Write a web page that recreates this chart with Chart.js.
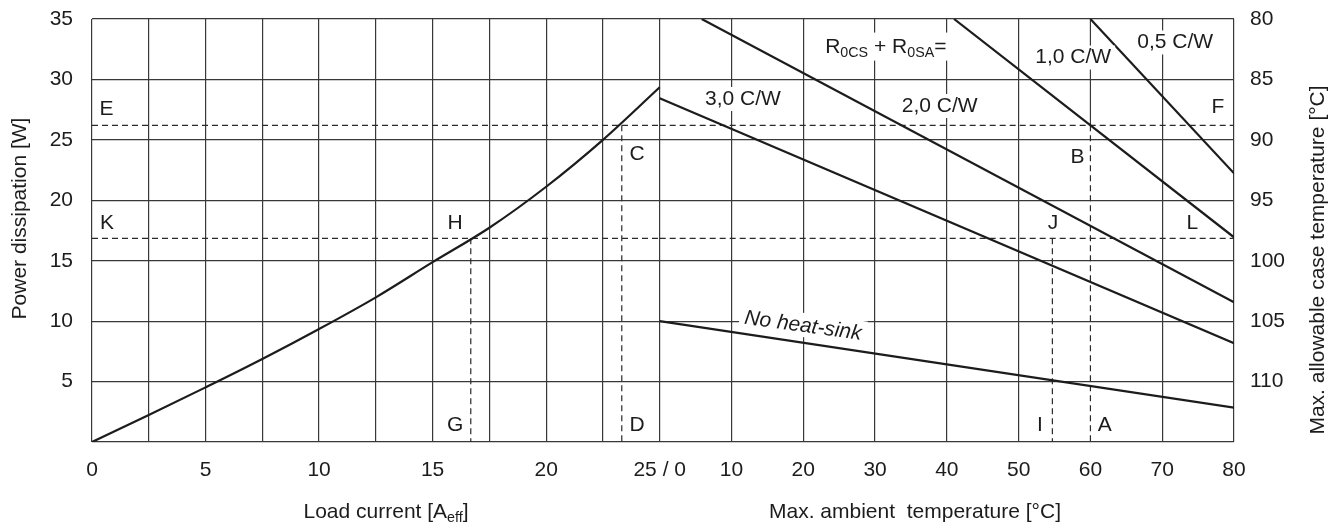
<!DOCTYPE html>
<html>
<head>
<meta charset="utf-8">
<script src="https://cdn.jsdelivr.net/npm/chart.js@4.4.0/dist/chart.umd.min.js"></script>
<style>
  html, body { margin: 0; padding: 0; background: #fff; }
</style>
</head>
<body>
<canvas id="chart" width="1341" height="527"></canvas>
<script>
// left half: load current [A] -> power dissipation [W]
const loadCurrent = [0, 2.5, 5, 7.5, 10, 12.5, 15, 17.5, 20, 22.5, 25];
const powerLoss   = [0, 2.23, 4.52, 6.87, 9.35, 11.97, 14.88, 17.73, 21.12, 25.0, 29.35];

// right half: one straight line per heat-sink, ambient temp [°C] -> power [W]
const sinkNames = ['No heat-sink', '3,0 C/W', '2,0 C/W', '1,0 C/W', '0,5 C/W'];
const sinkFromT = [0, 0, 5.85, 41.0, 60.0];
const sinkFromP = [10.0, 28.44, 35, 35, 35];
const sinkToT   = [80, 80, 80, 80, 80];
const sinkToP   = [2.84, 8.17, 11.56, 16.94, 22.23];

// dashed read-off lines (first = E/C/B example, second = K/H/J example)
const guidePower   = [26.2, 16.85];
const guideCurrent = [23.33, 16.68];
const guideAmbient = [60, 54.7];

// ticks
const currentTicks  = [0, 2.5, 5, 7.5, 10, 12.5, 15, 17.5, 20, 22.5, 25];
const currentLabels = ['0', '', '5', '', '10', '', '15', '', '20', '', '25 / 0'];
const ambientTicks  = [10, 20, 30, 40, 50, 60, 70, 80];
const powerTicks    = [0, 5, 10, 15, 20, 25, 30, 35];
const caseTicks     = [80, 85, 90, 95, 100, 105, 110, 115];

const FONT = '"Liberation Sans", Arial, Helvetica, sans-serif';
const INK = '#1c1c1c';
const GRID = '#383838';

// letters and labels: [text, x axis, x value, y value]
const notes = [
  ['E', 'xL', 0.64, 27.55], ['K', 'xL', 0.66, 18.12], ['H', 'xL', 15.99, 18.12],
  ['C', 'xL', 24.0, 23.83], ['G', 'xL', 15.99, 1.41], ['D', 'xL', 24.0, 1.41],
  ['I', 'xR', 52.97, 1.41], ['A', 'xR', 62.0, 1.41], ['J', 'xR', 54.8, 18.12],
  ['L', 'xR', 74.2, 18.12], ['B', 'xR', 58.2, 23.58], ['F', 'xR', 77.76, 27.72]
];
const boxedNotes = [
  ['3,0 C/W', 'xR', 11.6, 28.38], ['2,0 C/W', 'xR', 39.0, 27.8],
  ['1,0 C/W', 'xR', 57.6, 31.81], ['0,5 C/W', 'xR', 71.8, 33.06]
];

function seg(axis, xs, ys, extra) {
  return Object.assign({
    xAxisID: axis, yAxisID: 'y',
    data: xs.map((x, i) => ({x: x, y: ys[i]})),
    borderColor: INK, borderWidth: 2.2, pointRadius: 0, fill: false, tension: 0
  }, extra || {});
}

const dash = {borderDash: [6, 4], borderWidth: 1.2, borderColor: '#2a2a2a'};

const datasets = [
  seg('xL', loadCurrent, powerLoss, {cubicInterpolationMode: 'monotone'})
];
sinkNames.forEach((n, i) => {
  datasets.push(seg('xR', [sinkFromT[i], sinkToT[i]], [sinkFromP[i], sinkToP[i]], {label: n}));
});
guidePower.forEach(p => {
  datasets.push(seg('xL', [0, 25], [p, p], dash));
  datasets.push(seg('xR', [0, 80], [p, p], dash));
});
datasets.push(seg('xL', [guideCurrent[0], guideCurrent[0]], [guidePower[0], 0], dash));
datasets.push(seg('xL', [guideCurrent[1], guideCurrent[1]], [guidePower[1], 0], dash));
datasets.push(seg('xR', [guideAmbient[0], guideAmbient[0]], [guidePower[0], 0], dash));
datasets.push(seg('xR', [guideAmbient[1], guideAmbient[1]], [guidePower[1], 0], dash));
// grid line at 60 stays solid only above the E line
datasets.push(seg('xR', [guideAmbient[0], guideAmbient[0]], [guidePower[0], 35],
  {borderColor: GRID, borderWidth: 1.2}));

function richText(ctx, parts, x, y, size) {
  let w = 0;
  parts.forEach(p => {
    ctx.font = (p[1] ? size * 0.68 : size) + 'px ' + FONT;
    w += ctx.measureText(p[0]).width;
  });
  let cx = x - w / 2;
  ctx.textAlign = 'left';
  parts.forEach(p => {
    ctx.font = (p[1] ? size * 0.68 : size) + 'px ' + FONT;
    ctx.fillText(p[0], cx, p[1] ? y + 4 : y);
    cx += ctx.measureText(p[0]).width;
  });
  return w;
}

const notesPlugin = {
  id: 'notes',
  afterDatasetsDraw(chart) {
    const ctx = chart.ctx;
    const sc = chart.scales;
    ctx.save();
    ctx.fillStyle = INK;
    ctx.textBaseline = 'middle';
    ctx.textAlign = 'center';
    ctx.font = '21px ' + FONT;
    notes.forEach(n => {
      ctx.fillText(n[0], sc[n[1]].getPixelForValue(n[2]), sc.y.getPixelForValue(n[3]));
    });
    boxedNotes.forEach(n => {
      const px = sc[n[1]].getPixelForValue(n[2]);
      const py = sc.y.getPixelForValue(n[3]);
      const w = ctx.measureText(n[0]).width;
      ctx.fillStyle = '#fff';
      ctx.fillRect(px - w / 2 - 4, py - 12, w + 8, 24);
      ctx.fillStyle = INK;
      ctx.fillText(n[0], px, py);
    });

    // R0CS + R0SA=
    const rx = sc.xR.getPixelForValue(31.5);
    const ry = sc.y.getPixelForValue(32.8);
    ctx.fillStyle = '#fff';
    ctx.fillRect(rx - 66, ry - 13, 132, 28);
    ctx.fillStyle = INK;
    ctx.textBaseline = 'alphabetic';
    richText(ctx, [['R', 0], ['0CS', 1], [' + R', 0], ['0SA', 1], ['=', 0]], rx, ry + 7, 21);

    // No heat-sink, tilted like its line
    const x1 = sc.xR.getPixelForValue(sinkFromT[0]), y1 = sc.y.getPixelForValue(sinkFromP[0]);
    const x2 = sc.xR.getPixelForValue(sinkToT[0]), y2 = sc.y.getPixelForValue(sinkToP[0]);
    const ang = Math.atan2(y2 - y1, x2 - x1) * 0.92;
    ctx.translate(sc.xR.getPixelForValue(19.96), sc.y.getPixelForValue(9.6));
    ctx.rotate(ang);
    ctx.font = 'italic 21px ' + FONT;
    ctx.textAlign = 'center';
    ctx.textBaseline = 'middle';
    const nw = ctx.measureText(sinkNames[0]).width;
    ctx.fillStyle = '#fff';
    ctx.fillRect(-nw / 2 - 5, -13, nw + 10, 24);
    ctx.fillStyle = INK;
    ctx.fillText(sinkNames[0], 0, 0);
    ctx.restore();
  },
  afterDraw(chart) {
    const ctx = chart.ctx;
    ctx.save();
    ctx.fillStyle = INK;
    ctx.font = '21px ' + FONT;
    ctx.textBaseline = 'alphabetic';
    ctx.textAlign = 'center';

    ctx.save();
    ctx.translate(26, 218.5);
    ctx.rotate(-Math.PI / 2);
    ctx.fillText('Power dissipation [W]', 0, 0);
    ctx.restore();

    ctx.save();
    ctx.translate(1324, 260);
    ctx.rotate(-Math.PI / 2);
    ctx.fillText('Max. allowable case temperature [°C]', 0, 0);
    ctx.restore();

    ctx.fillText('Max. ambient  temperature [°C]', 915, 518);
    richText(ctx, [['Load current [A', 0], ['eff', 1], [']', 0]], 386, 518, 21);
    ctx.restore();
  }
};

const tickFont = {family: FONT, size: 21};

// y axes keep a fixed width and give no extra top/bottom room for their labels
function fixY(w) {
  return s => { s.width = w; s.paddingTop = 0; s.paddingBottom = 0; };
}

new Chart(document.getElementById('chart'), {
  type: 'line',
  data: {datasets: datasets},
  plugins: [notesPlugin],
  options: {
    responsive: false,
    animation: false,
    devicePixelRatio: 1,
    layout: {padding: {top: 19, bottom: 85, left: 0, right: 0}},
    plugins: {legend: {display: false}, tooltip: {enabled: false}},
    scales: {
      y: {
        type: 'linear', position: 'left', min: 0, max: 35,
        afterBuildTicks: s => { s.ticks = powerTicks.map(v => ({value: v})); },
        afterFit: fixY(92),
        ticks: {font: tickFont, color: INK, padding: 19,
          callback: v => (v === 0 ? '' : String(v))},
        grid: {color: GRID, lineWidth: 1.2, drawTicks: false},
        border: {display: false}
      },
      y2: {
        type: 'linear', position: 'right', min: 80, max: 115, reverse: true,
        afterBuildTicks: s => { s.ticks = caseTicks.map(v => ({value: v})); },
        afterFit: fixY(107),
        ticks: {font: tickFont, color: INK, padding: 16,
          callback: v => (v === 115 ? '' : String(v))},
        grid: {display: false, drawTicks: false},
        border: {display: false}
      },
      xL: {
        type: 'linear', position: {y: 0}, min: 0, max: 50.29,
        afterBuildTicks: s => { s.ticks = currentTicks.map(v => ({value: v})); },
        ticks: {font: tickFont, color: INK, padding: 16, maxRotation: 0, autoSkip: false,
          callback: (v, i) => currentLabels[i]},
        grid: {color: GRID, lineWidth: 1.2, drawTicks: false},
        border: {display: false}
      },
      xR: {
        type: 'linear', position: {y: 0}, min: -79.08, max: 80,
        afterBuildTicks: s => { s.ticks = ambientTicks.map(v => ({value: v})); },
        ticks: {font: tickFont, color: INK, padding: 16, maxRotation: 0, autoSkip: false},
        grid: {lineWidth: 1.2, drawTicks: false,
          color: c => (c.tick && c.tick.value === guideAmbient[0] ? 'rgba(0,0,0,0)' : GRID)},
        border: {display: false}
      }
    }
  }
});
</script>
</body>
</html>
